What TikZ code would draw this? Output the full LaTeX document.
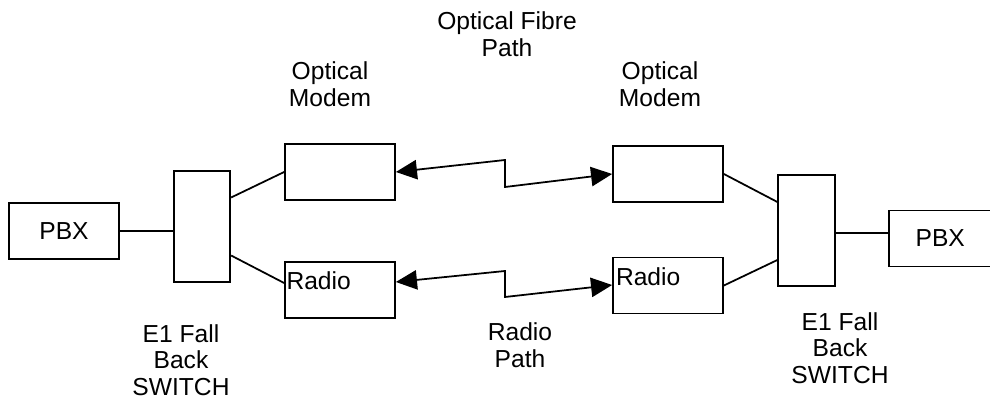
\documentclass[tikz,border=0pt]{standalone}
\usepackage{fontspec}
\setmainfont{Liberation Sans}
\usetikzlibrary{arrows.meta,positioning}

\begin{document}
\begin{tikzpicture}[
  >={Triangle[length=12pt,width=11pt]},
  line width=1pt,
  font=\fontsize{14}{15.2}\selectfont,
  unit/.style={draw,minimum width=2.2cm,minimum height=1.12cm,inner sep=0pt},
  switchbox/.style={draw,minimum width=1.13cm,minimum height=2.22cm},
  caption/.style={align=center,inner sep=0pt},
  inlabel/.style={anchor=north west,inner sep=0pt},
  link/.style={<->}
]
  \useasboundingbox (0,0) rectangle (19.8,8);

  \node[unit] (pbxl) at (1.28,3.38) {PBX};
  \node[switchbox] (switchl) at (4.04,3.47) {};
  \node[unit] (modeml) at (6.8,4.56) {};
  \node[unit,label={[inlabel,xshift=0.03cm,yshift=-0.2cm]north west:Radio}] (radiol) at (6.8,2.2) {};
  \node[unit] (modemr) at (13.36,4.52) {};
  \node[unit,label={[inlabel,xshift=0.06cm,yshift=-0.2cm]north west:Radio}] (radior) at (13.36,2.29) {};
  \node[switchbox] (switchr) at (16.13,3.39) {};
  \node[unit] (pbxr) at (18.88,3.23) {\hspace*{-0.15cm}PBX};

  \node[caption] (fibrelabel) at (10.14,7.32) {Optical Fibre\\Path};
  \node[caption] (modemlabell) at (6.6,6.31) {Optical\\Modem};
  \node[caption] (modemlabelr) at (13.2,6.31) {Optical\\Modem};
  \node[caption] (radiolabel) at (10.4,1.1) {Radio\\Path};
  \node[caption] (switchlabell) at (3.62,0.8) {E1 Fall\\Back\\SWITCH};
  \node[caption] (switchlabelr) at (16.8,1.04) {E1 Fall\\Back\\SWITCH};

  % kinks in the two paths
  \coordinate (fibretop) at (10.1,4.8);
  \coordinate (fibrebot) at (10.1,4.26);
  \coordinate (radiotop) at (10.1,2.58);
  \coordinate (radiobot) at (10.1,2.06);

  \draw (pbxl) -- (pbxl -| switchl.west);
  \draw ([yshift=0.58cm]switchl.east) -- (modeml.west);
  \draw ([yshift=-0.58cm]switchl.east) -- ([yshift=0.14cm]radiol.west);
  \draw (modemr.east) -- ([yshift=0.57cm]switchr.west);
  \draw (radior.east) -- ([yshift=-0.59cm]switchr.west);
  \draw ([yshift=-0.05cm]switchr.east) -- ([yshift=-0.05cm]switchr.east -| pbxr.west);

  \draw[link] (modeml.east) -- (fibretop) -- (fibrebot) -- (modemr.west);
  \draw[link] ([yshift=0.16cm]radiol.east) -- (radiotop) -- (radiobot) -- ([yshift=0.01cm]radior.west);
\end{tikzpicture}
\end{document}
